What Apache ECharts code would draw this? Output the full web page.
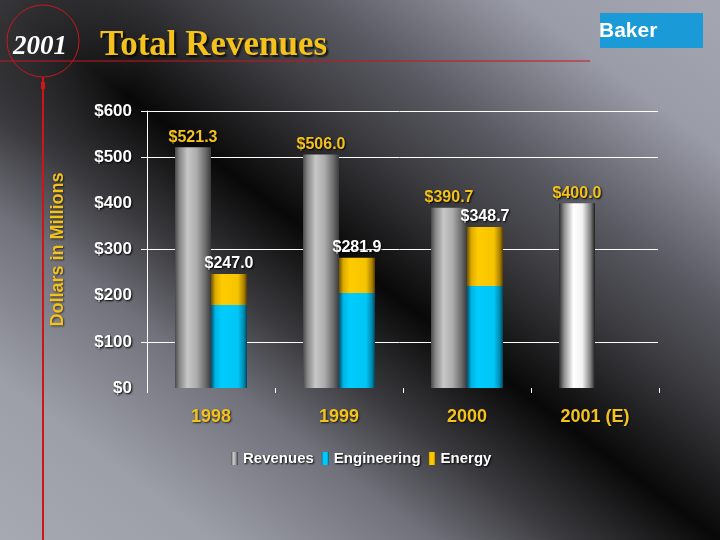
<!DOCTYPE html>
<html>
<head>
<meta charset="utf-8">
<script src="https://cdn.jsdelivr.net/npm/echarts@6/dist/echarts.min.js"></script>
<style>html,body{margin:0;padding:0;background:#000;}#chart{width:720px;height:540px;}</style>
</head>
<body>
<div id="chart"></div>
<script>
var categories = ['1998', '1999', '2000', '2001 (E)'];
var revenues = [521.3, 506.0, 390.7, 400.0];
var engineering = [180.0, 206.0, 221.0, '-'];
var energy = [67.0, 75.9, 127.7, '-'];
var stackTotals = [247.0, 281.9, 348.7, null];
var gridValues = [100, 300, 500, 600];

var YELLOW = '#f4c21c';
function hGrad(stops) {
  return new echarts.graphic.LinearGradient(0, 0, 1, 0, stops.map(function (s) { return { offset: s[0], color: s[1] }; }));
}
var grayGrad = hGrad([[0, '#484848'], [0.12, '#848484'], [0.35, '#c8c8c8'], [0.6, '#acacac'], [0.85, '#6a6a6a'], [1, '#3a3a3a']]);
var whiteGrad = hGrad([[0, '#2a2a2a'], [0.14, '#8c8c8c'], [0.4, '#ffffff'], [0.65, '#f2f2f2'], [0.88, '#7c7c7c'], [1, '#1e1e1e']]);
var blueGrad = hGrad([[0, '#00506c'], [0.12, '#00b4e4'], [0.3, '#00ccff'], [0.75, '#00c6f6'], [0.92, '#0086aa'], [1, '#00445a']]);
var goldGrad = hGrad([[0, '#705200'], [0.12, '#dcaa00'], [0.3, '#ffcc00'], [0.75, '#f6c400'], [0.92, '#a67c00'], [1, '#543c00']]);

var bgGrad = new echarts.graphic.LinearGradient(100.8, 615.6, 619.2, -75.6, [
  { offset: 0, color: '#a6a8b2' },
  { offset: 0.15, color: '#9c9ea8' },
  { offset: 0.3, color: '#70717a' },
  { offset: 0.39, color: '#3c3c40' },
  { offset: 0.5, color: '#080808' },
  { offset: 0.62, color: '#3a3a3e' },
  { offset: 0.72, color: '#5a5b63' },
  { offset: 0.86, color: '#9a9ca8' },
  { offset: 1, color: '#a4a6b2' }
], true);
var cornerGlow = new echarts.graphic.RadialGradient(0, 0, 160, [
  { offset: 0, color: 'rgba(60,60,64,0.9)' },
  { offset: 1, color: 'rgba(60,60,64,0)' }
], true);

var revData = revenues.map(function (v, i) {
  return i === 3 ? { value: v, itemStyle: { color: whiteGrad } } : v;
});

var chart = echarts.init(document.getElementById('chart'));
chart.setOption({
  animation: false,
  backgroundColor: 'transparent',
  graphic: [
    { type: 'rect', z: -10, silent: true, shape: { x: 0, y: 0, width: 720, height: 540 }, style: { fill: bgGrad } },
    { type: 'rect', z: -9, silent: true, shape: { x: 0, y: 0, width: 200, height: 200 }, style: { fill: cornerGlow } },
    { type: 'line', z: 10, shape: { x1: 0, y1: 61, x2: 590, y2: 61 }, style: { stroke: '#c8161e', lineWidth: 1 } },
    { type: 'circle', z: 10, shape: { cx: 43, cy: 41, r: 36 }, style: { fill: 'none', stroke: '#c8161e', lineWidth: 1 } },
    { type: 'line', z: 10, shape: { x1: 43, y1: 77, x2: 43, y2: 540 }, style: { stroke: '#d0141c', lineWidth: 2 } },
    { type: 'rect', z: 10, shape: { x: 41, y: 82, width: 4, height: 7 }, style: { fill: '#d0141c' } },
    { type: 'text', z: 11, left: 13, top: 34, style: { text: '2001', fill: '#ffffff', font: 'italic bold 27px "Liberation Serif", "Times New Roman", serif' } },
    { type: 'text', z: 11, left: 100, top: 28, style: { text: 'Total Revenues', fill: YELLOW, font: 'bold 35px "Liberation Serif", "Times New Roman", serif', textShadowColor: 'rgba(0,0,0,0.8)', textShadowOffsetX: 2, textShadowOffsetY: 2, textShadowBlur: 2 } },
    { type: 'rect', z: 10, shape: { x: 600, y: 13, width: 103, height: 35 }, style: { fill: '#1a9ad6' } },
    { type: 'text', z: 11, left: 599, top: 21, style: { text: 'Baker', fill: '#ffffff', font: 'bold 21px "Liberation Sans", Arial, sans-serif' } }
  ],
  grid: { left: 147, right: 61, top: 111, bottom: 152 },
  legend: {
    left: 226, top: 446,
    itemWidth: 7, itemHeight: 13, itemGap: 8,
    icon: 'rect',
    data: ['Revenues', 'Engineering', 'Energy'],
    textStyle: { color: '#ffffff', fontWeight: 'bold', fontSize: 15, fontFamily: '"Liberation Sans", Arial, sans-serif', textShadowColor: '#000', textShadowBlur: 2, textShadowOffsetX: 1, textShadowOffsetY: 1 }
  },
  xAxis: {
    type: 'category',
    data: categories,
    axisLine: { show: false },
    axisTick: { show: true, length: 5, lineStyle: { color: '#ffffff' } },
    axisLabel: { color: YELLOW, fontWeight: 'bold', fontSize: 18, fontFamily: '"Liberation Sans", Arial, sans-serif', margin: 20, textShadowColor: 'rgba(0,0,0,0.7)', textShadowBlur: 2, textShadowOffsetX: 1, textShadowOffsetY: 1 },
    splitLine: { show: false }
  },
  yAxis: {
    type: 'value',
    min: 0, max: 600, interval: 100,
    name: 'Dollars in Millions',
    nameLocation: 'middle',
    nameGap: 80,
    nameRotate: 90,
    nameTextStyle: { color: YELLOW, fontWeight: 'bold', fontSize: 18, fontFamily: '"Liberation Sans", Arial, sans-serif', textShadowColor: 'rgba(0,0,0,0.6)', textShadowBlur: 2, textShadowOffsetX: 1, textShadowOffsetY: 1 },
    axisLine: { show: true, lineStyle: { color: '#ffffff', width: 1 } },
    axisTick: { show: false },
    axisLabel: { color: '#ffffff', fontWeight: 'bold', fontSize: 17, fontFamily: '"Liberation Sans", Arial, sans-serif', margin: 15, formatter: function (v) { return '$' + v; }, textShadowColor: '#000', textShadowBlur: 2, textShadowOffsetX: 1, textShadowOffsetY: 1 },
    splitLine: { show: false }
  },
  series: [
    {
      name: 'Revenues', type: 'bar', barWidth: 36, barGap: '0%',
      data: revData,
      itemStyle: { color: grayGrad },
      label: { show: true, position: 'top', distance: 2, color: YELLOW, fontWeight: 'bold', fontSize: 16, fontFamily: '"Liberation Sans", Arial, sans-serif', formatter: function (p) { return '$' + p.value.toFixed(1); }, textShadowColor: '#000', textShadowBlur: 2, textShadowOffsetX: 1, textShadowOffsetY: 1 },
      markLine: {
        silent: true, symbol: 'none', z: 1,
        label: { show: false },
        lineStyle: { color: '#ffffff', width: 1, type: 'solid' },
        data: gridValues.map(function (v) { return [{ x: 141, yAxis: v }, { x: 658, yAxis: v }]; })
      },
      z: 3
    },
    {
      name: 'Engineering', type: 'bar', stack: 'seg', barWidth: 36,
      data: engineering,
      itemStyle: { color: blueGrad },
      z: 3
    },
    {
      name: 'Energy', type: 'bar', stack: 'seg', barWidth: 36,
      data: energy,
      itemStyle: { color: goldGrad },
      label: { show: true, position: 'top', distance: 2, color: '#ffffff', fontWeight: 'bold', fontSize: 16, fontFamily: '"Liberation Sans", Arial, sans-serif', formatter: function (p) { var t = stackTotals[p.dataIndex]; return t == null ? '' : '$' + t.toFixed(1); }, textShadowColor: '#000', textShadowBlur: 2, textShadowOffsetX: 1, textShadowOffsetY: 1 },
      z: 3
    }
  ]
});
</script>
</body>
</html>
